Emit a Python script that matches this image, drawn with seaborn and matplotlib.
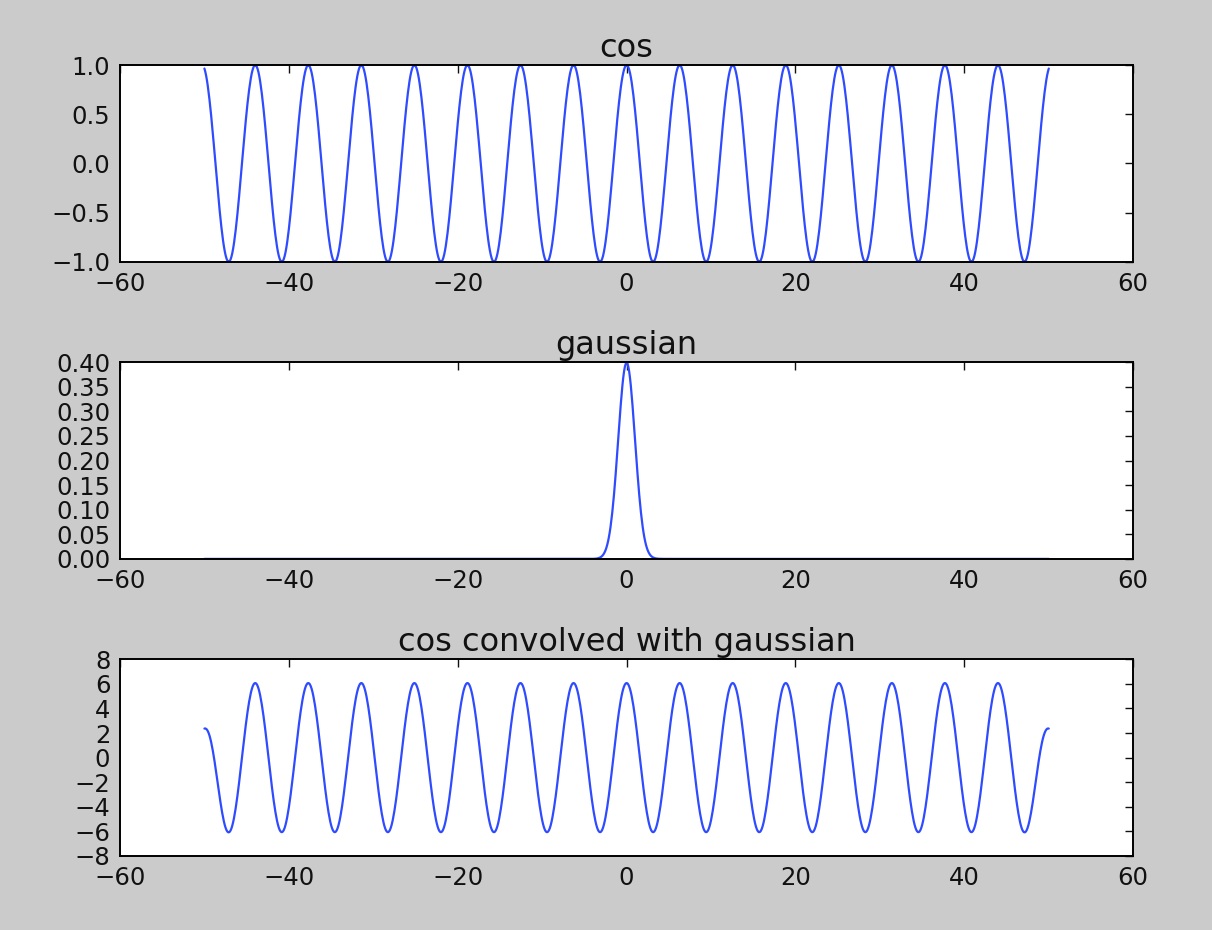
"""cos, a gaussian kernel, and their convolution, in the classic matplotlib look."""
import matplotlib
matplotlib.use("Agg")
import matplotlib.pyplot as plt
import numpy as np
import seaborn as sns

# values: x runs -50..50, cos of unit amplitude,
# standard normal kernel (peak ~0.40), discrete convolution on the same grid
x_start, x_stop, n_points = -50, 50, 1001
kernel_mu, kernel_sigma = 0.0, 1.0

titles = ["cos", "gaussian", "cos convolved with gaussian"]
xlims = [(-60, 60), (-60, 60), (-60, 60)]
ylims = [(-1.0, 1.0), (0.0, 0.40), (-8, 8)]
xticks = [-60, -40, -20, 0, 20, 40, 60]
yticks = [
    [-1.0, -0.5, 0.0, 0.5, 1.0],
    [0.00, 0.05, 0.10, 0.15, 0.20, 0.25, 0.30, 0.35, 0.40],
    [-8, -6, -4, -2, 0, 2, 4, 6, 8],
]
ytick_fmt = ["{:.1f}", "{:.2f}", "{:d}"]

x = np.linspace(x_start, x_stop, n_points)
cos_y = np.cos(x)
gauss_y = np.exp(-0.5 * ((x - kernel_mu) / kernel_sigma) ** 2) / (kernel_sigma * np.sqrt(2 * np.pi))
conv_y = np.convolve(cos_y, gauss_y, mode="same")
series = [cos_y, gauss_y, conv_y]

sns.set_theme(style="white")
plt.rcParams["font.family"] = ["DejaVu Sans"]

fig, axes = plt.subplots(3, 1, figsize=(12.12, 9.30), dpi=100)
fig.patch.set_facecolor("#cbcbcb")
fig.subplots_adjust(left=0.099, right=0.935, top=0.930, bottom=0.0796, hspace=0.51)

for ax, y, title, xl, yl, yt, fmt in zip(axes, series, titles, xlims, ylims, yticks, ytick_fmt):
    sns.lineplot(x=x, y=y, ax=ax, color="#2f4bff", linewidth=1.6)
    ax.set_facecolor("white")
    ax.set_xlim(*xl)
    ax.set_ylim(*yl)
    ax.set_xticks(xticks)
    ax.set_xticklabels([f"{t:d}".replace("-", "\u2212") for t in xticks])
    ax.set_yticks(yt)
    ax.set_yticklabels([fmt.format(t).replace("-", "\u2212") for t in yt])
    ax.set_title(title, fontsize=23, color="#111111", pad=6)
    ax.tick_params(direction="in", length=6, width=1, top=True, right=True,
                   labelsize=17.5, colors="#111111", pad=7)
    for sp in ax.spines.values():
        sp.set_visible(True)
        sp.set_color("black")
        sp.set_linewidth(1.4)

fig.savefig("out.png", dpi=100, facecolor=fig.get_facecolor())
